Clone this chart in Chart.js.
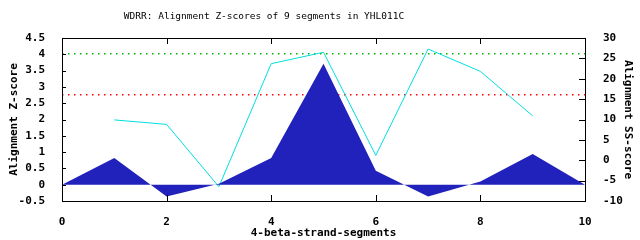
<!DOCTYPE html>
<html>
<head>
<meta charset="utf-8">
<script src="https://cdn.jsdelivr.net/npm/chart.js@4"></script>
<style>
  html, body { margin: 0; padding: 0; background: #fff; }
  #wrap { width: 640px; height: 240px; }
</style>
</head>
<body>
<div id="wrap"><canvas id="grafico"></canvas></div>
<script>
// segmentos 0..10, z-score preenchido, ss-score nos segmentos 1..9
const segZ = [0, 1, 2, 3, 4, 5, 6, 7, 8, 9, 10];
const zScores = [0, 0.82, -0.36, 0.03, 0.82, 3.71, 0.43, -0.36, 0.10, 0.94, 0];
const segSS = [1, 2, 3, 4, 5, 6, 7, 8, 9];
const ssScores = [9.9, 8.8, -6.5, 23.7, 26.5, 1.2, 27.3, 21.8, 10.9];
const limiares = [4.02, 2.76];
const coresLimiar = ['#00b000', '#ff0000'];
const TITULO = 'WDRR: Alignment Z-scores of 9 segments in YHL011C';

const FONTE = "'DejaVu Sans Mono', monospace";
const fonteEixo = { family: FONTE, size: 11, weight: 'bold' };

// moldura, ticks para dentro e título deslocado, no estilo gnuplot
const moldura = {
  id: 'moldura',
  afterDraw(chart) {
    const { ctx, chartArea: a, scales } = chart;
    ctx.save();
    ctx.fillStyle = '#000';
    ctx.font = `9.5px ${FONTE}`;
    ctx.textAlign = 'center';
    ctx.textBaseline = 'middle';
    ctx.fillText(TITULO, 264, 17);

    ctx.strokeStyle = '#000';
    ctx.lineWidth = 1;
    ctx.strokeRect(Math.round(a.left) + 0.5, Math.round(a.top) + 0.5,
      Math.round(a.right - a.left), Math.round(a.bottom - a.top));
    ctx.beginPath();
    scales.x.ticks.forEach(t => {
      const px = Math.round(scales.x.getPixelForValue(t.value)) + 0.5;
      ctx.moveTo(px, a.bottom); ctx.lineTo(px, a.bottom - 6);
      ctx.moveTo(px, a.top); ctx.lineTo(px, a.top + 6);
    });
    scales.y.ticks.forEach(t => {
      const py = Math.round(scales.y.getPixelForValue(t.value)) + 0.5;
      ctx.moveTo(a.left, py); ctx.lineTo(a.left + 4, py);
    });
    scales.y2.ticks.forEach(t => {
      const py = Math.round(scales.y2.getPixelForValue(t.value)) + 0.5;
      ctx.moveTo(a.right, py); ctx.lineTo(a.right - 6, py);
    });
    ctx.stroke();
    ctx.restore();
  }
};

const datasets = [
  {
    data: segZ.map((x, i) => ({ x, y: zScores[i] })),
    yAxisID: 'y',
    backgroundColor: '#2121bb',
    borderColor: '#2121bb',
    borderWidth: 0,
    fill: 'origin',
    pointRadius: 0,
    tension: 0,
  },
  {
    data: segSS.map((x, i) => ({ x, y: ssScores[i] })),
    yAxisID: 'y2',
    borderColor: '#00dede',
    borderWidth: 1,
    fill: false,
    pointRadius: 0,
    tension: 0,
  },
];
limiares.forEach((v, i) => {
  datasets.push({
    data: [{ x: segZ[0], y: v }, { x: segZ[segZ.length - 1], y: v }],
    yAxisID: 'y',
    borderColor: coresLimiar[i],
    borderWidth: 1.5,
    borderDash: [1.5, 4.5],
    fill: false,
    pointRadius: 0,
  });
});

new Chart(document.getElementById('grafico'), {
  type: 'line',
  data: { datasets },
  options: {
    responsive: true,
    maintainAspectRatio: false,
    animation: false,
    layout: { padding: { top: 38, left: 0, right: 0, bottom: 0 } },
    plugins: {
      legend: { display: false },
      tooltip: { enabled: false },
      title: { display: false },
    },
    scales: {
      x: {
        type: 'linear',
        min: 0, max: 10,
        grid: { display: false },
        border: { display: false },
        ticks: { stepSize: 2, color: '#000', padding: 7, maxRotation: 0, font: fonteEixo },
        title: { display: true, text: '4-beta-strand-segments', color: '#000', padding: 0, font: fonteEixo },
        afterFit: s => { s.height = 39; },
      },
      y: {
        position: 'left',
        min: -0.5, max: 4.5,
        grid: { display: false },
        border: { display: false },
        ticks: { stepSize: 0.5, color: '#000', padding: 9, font: fonteEixo, callback: v => String(+v.toFixed(1)) },
        title: { display: true, text: 'Alignment Z-score', color: '#000', padding: { top: 8, bottom: 8 }, font: fonteEixo },
        afterFit: s => { s.width = 62; },
      },
      y2: {
        position: 'right',
        min: -10, max: 30,
        grid: { display: false },
        border: { display: false },
        ticks: { stepSize: 5, color: '#000', padding: 10, font: fonteEixo },
        title: { display: true, text: 'Alignment SS-score', color: '#000', padding: { top: 6, bottom: 6 }, font: fonteEixo },
        afterFit: s => { s.width = 55; },
      },
    },
  },
  plugins: [moldura],
});
</script>
</body>
</html>
